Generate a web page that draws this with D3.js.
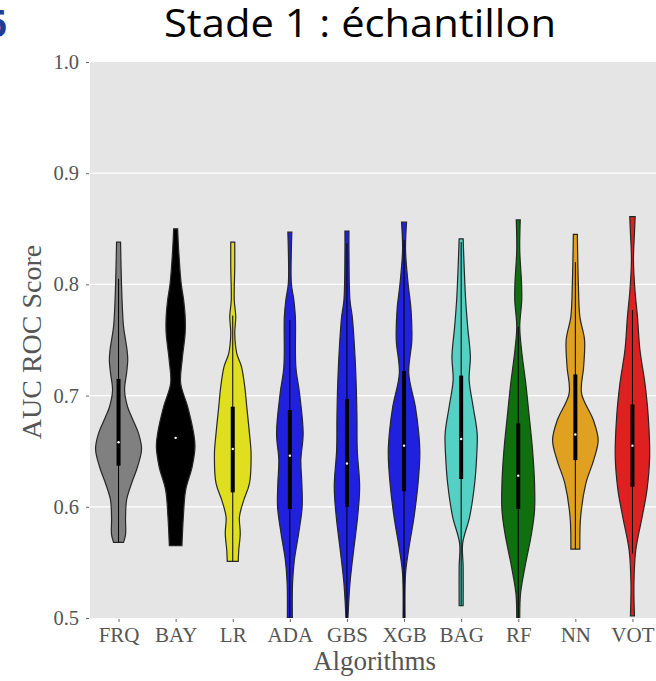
<!DOCTYPE html>
<html>
<head>
<meta charset="utf-8">
<script src="https://cdn.jsdelivr.net/npm/d3@7"></script>
<style>
  body { margin: 0; background: #fff; }
</style>
</head>
<body>
<script>
/*categories*/
const algorithms = ['FRQ', 'BAY', 'LR', 'ADA', 'GBS', 'XGB', 'BAG', 'RF', 'NN', 'VOT'];
const yTicks = [0.5, 0.6, 0.7, 0.8, 0.9, 1.0];

/*violin outlines: [AUC value, density]*/
const frq = [[0.838,2],[0.816,2.5],[0.786,3.5],[0.762,5],[0.741,8.5],[0.732,9.2],[0.720,8],[0.705,6],[0.690,9],[0.681,13],[0.666,20],[0.652,23],[0.636,19],[0.621,13],[0.606,8],[0.590,7],[0.575,7],[0.568,5]];
const bay = [[0.850,2],[0.831,3],[0.801,5.5],[0.786,8],[0.771,9.5],[0.756,9.5],[0.732,6.5],[0.711,5],[0.690,12],[0.666,18],[0.654,19.3],[0.636,16.5],[0.615,10],[0.591,7.7],[0.565,6.3]];
const lr  = [[0.838,2],[0.816,2],[0.786,1.5],[0.771,3],[0.756,2],[0.738,4],[0.726,8.7],[0.708,12],[0.690,14],[0.666,16.7],[0.648,18.3],[0.621,16.7],[0.606,11],[0.591,6.7],[0.576,7.5],[0.561,6],[0.551,5.5]];
const ada = [[0.847,2],[0.831,1.5],[0.801,1.5],[0.786,4],[0.771,5.5],[0.726,6],[0.702,9.7],[0.666,13.3],[0.642,11],[0.621,12],[0.600,12.3],[0.576,8.8],[0.552,4.5],[0.531,2.7],[0.500,2.5]];
const gbs = [[0.848,2],[0.831,2],[0.786,3],[0.771,5.3],[0.741,7.7],[0.711,9.2],[0.681,10],[0.651,10.3],[0.618,12.7],[0.591,10.7],[0.561,6.7],[0.531,3],[0.500,1]];
const xgb = [[0.856,2.5],[0.831,1.5],[0.801,4],[0.777,7],[0.750,7.8],[0.720,4.7],[0.690,11.3],[0.666,14.7],[0.648,15.8],[0.621,14],[0.591,10],[0.561,4.5],[0.540,1.5],[0.500,1]];
const bag = [[0.841,2],[0.816,3],[0.786,4.5],[0.762,6.5],[0.735,9.2],[0.714,8],[0.690,12],[0.666,16],[0.645,15.5],[0.621,13.5],[0.591,8.5],[0.567,1.5],[0.546,2],[0.511,2]];
const rf  = [[0.858,2],[0.831,1.5],[0.801,3.3],[0.786,3.5],[0.762,1.5],[0.741,3.3],[0.711,7.5],[0.681,11],[0.651,14.3],[0.621,16.3],[0.597,16.3],[0.576,13.3],[0.546,6.7],[0.522,2.3],[0.500,1.5]];
const nn  = [[0.845,2],[0.801,3],[0.771,4.5],[0.750,9.2],[0.726,8.3],[0.702,6.2],[0.678,18],[0.660,22.8],[0.642,18.3],[0.621,10.5],[0.591,5.3],[0.562,4.5]];
const vot = [[0.861,2.7],[0.846,2],[0.822,1],[0.795,2.5],[0.771,5],[0.741,7.5],[0.711,12.5],[0.681,15.8],[0.645,17.2],[0.615,14.5],[0.591,9.7],[0.561,3.3],[0.531,1.5],[0.502,2]];
const outlines = [frq, bay, lr, ada, gbs, xgb, bag, rf, nn, vot];

/*inner box statistics*/
const q1 = [0.637, 0.635, 0.613, 0.598, 0.600, 0.614, 0.625, 0.598, 0.642, 0.618];
const median = [0.658, 0.662, 0.652, 0.646, 0.639, 0.655, 0.661, 0.628, 0.665, 0.655];
const q3 = [0.715, 0.715, 0.690, 0.687, 0.697, 0.722, 0.718, 0.675, 0.719, 0.692];
const whiskerLow = [0.568, 0.565, 0.551, 0.500, 0.500, 0.500, 0.511, 0.500, 0.562, 0.558];
const whiskerHigh = [0.805, 0.800, 0.772, 0.768, 0.837, 0.840, 0.838, 0.762, 0.820, 0.777];

const colors = ['#808080', '#000000', '#dfdf20', '#2020df', '#2020df', '#2020df', '#54d0c4', '#107010', '#e0a020', '#df2020'];

/*canvas size*/
const width = 656;
const height = 681;
const plot = { left: 90, right: 661, top: 62, bottom: 618 };

const svg = d3.select('body')
    .append('svg')
    .attr('width', width)
    .attr('height', height);

/*scales*/
const xScale = d3.scalePoint()
    .domain(algorithms)
    .range([plot.left, plot.right])
    .padding(0.5);
const yScale = d3.scaleLinear()
    .domain([0.5, 1.0])
    .range([plot.bottom, plot.top]);
const wScale = d3.scaleLinear()
    .domain([0, 23])
    .range([0, 23]);

/*panel + grid*/
svg.append('rect')
    .attr('x', plot.left).attr('y', plot.top)
    .attr('width', plot.right - plot.left).attr('height', plot.bottom - plot.top)
    .attr('fill', '#e5e5e5');

svg.append('g').selectAll('line').data(yTicks.filter(d => d > 0.5 && d < 1.0)).enter().append('line')
    .attr('x1', plot.left).attr('x2', plot.right)
    .attr('y1', d => yScale(d)).attr('y2', d => yScale(d))
    .attr('stroke', '#fff').attr('stroke-width', 1.2);

svg.append('clipPath').attr('id', 'clip').append('rect')
    .attr('x', plot.left).attr('y', plot.top)
    .attr('width', plot.right - plot.left).attr('height', plot.bottom - plot.top);

/*axes*/
const serif = '"Liberation Serif", "DejaVu Serif", serif';
const yAxis = svg.append('g')
    .attr('transform', `translate(${plot.left - 1},0)`)
    .call(d3.axisLeft(yScale).tickValues(yTicks).tickFormat(d3.format('.1f')).tickSize(3).tickPadding(7));
const xAxis = svg.append('g')
    .attr('transform', `translate(0,${plot.bottom + 1})`)
    .call(d3.axisBottom(xScale).tickSize(3).tickPadding(5));
[xAxis, yAxis].forEach(a => {
    a.select('.domain').remove();
    a.selectAll('line').attr('stroke', '#666');
    a.selectAll('text').attr('fill', '#555').attr('font-family', serif);
});
yAxis.selectAll('text').attr('font-size', 20.5);
xAxis.selectAll('text').attr('font-size', 21);

/*violins*/
const vg = svg.append('g').attr('clip-path', 'url(#clip)');
algorithms.forEach((name, i) => {
    const cx = xScale(name);
    const area = d3.area()
        .y(d => yScale(d[0]))
        .x0(d => cx - wScale(d[1]))
        .x1(d => cx + wScale(d[1]))
        .curve(d3.curveCatmullRom.alpha(0.5));
    vg.append('path').datum(outlines[i])
        .attr('d', area)
        .attr('fill', colors[i])
        .attr('stroke', '#262626')
        .attr('stroke-width', 1.2);
    vg.append('line')
        .attr('x1', cx).attr('x2', cx)
        .attr('y1', yScale(whiskerHigh[i])).attr('y2', yScale(whiskerLow[i]))
        .attr('stroke', '#000').attr('stroke-width', 1);
    vg.append('rect')
        .attr('x', cx - 2).attr('width', 4)
        .attr('y', yScale(q3[i])).attr('height', yScale(q1[i]) - yScale(q3[i]))
        .attr('fill', '#000');
    vg.append('circle')
        .attr('cx', cx).attr('cy', yScale(median[i])).attr('r', 1.2)
        .attr('fill', '#fff');
});

/*titles*/
svg.append('text')
    .attr('x', 360).attr('y', 37)
    .attr('text-anchor', 'middle')
    .attr('font-family', '"Open Sans", "Noto Sans", sans-serif')
    .attr('font-size', 37.5)
    .attr('textLength', 392).attr('lengthAdjust', 'spacingAndGlyphs')
    .attr('fill', '#000')
    .text('Stade 1 : échantillon');
svg.append('text')
    .attr('x', 7).attr('y', 37)
    .attr('text-anchor', 'end')
    .attr('font-family', '"Open Sans", "Noto Sans", sans-serif')
    .attr('font-weight', 'bold')
    .attr('font-size', 38)
    .attr('fill', '#1f3c96')
    .text('6');
svg.append('text')
    .attr('x', (plot.left + plot.right) / 2 - 1).attr('y', 670)
    .attr('text-anchor', 'middle')
    .attr('font-family', serif)
    .attr('font-size', 27)
    .attr('fill', '#555')
    .text('Algorithms');
svg.append('text')
    .attr('transform', `translate(41,${(plot.top + plot.bottom) / 2 + 2}) rotate(-90)`)
    .attr('text-anchor', 'middle')
    .attr('font-family', serif)
    .attr('font-size', 28)
    .attr('fill', '#555')
    .text('AUC ROC Score');
</script>
</body>
</html>
